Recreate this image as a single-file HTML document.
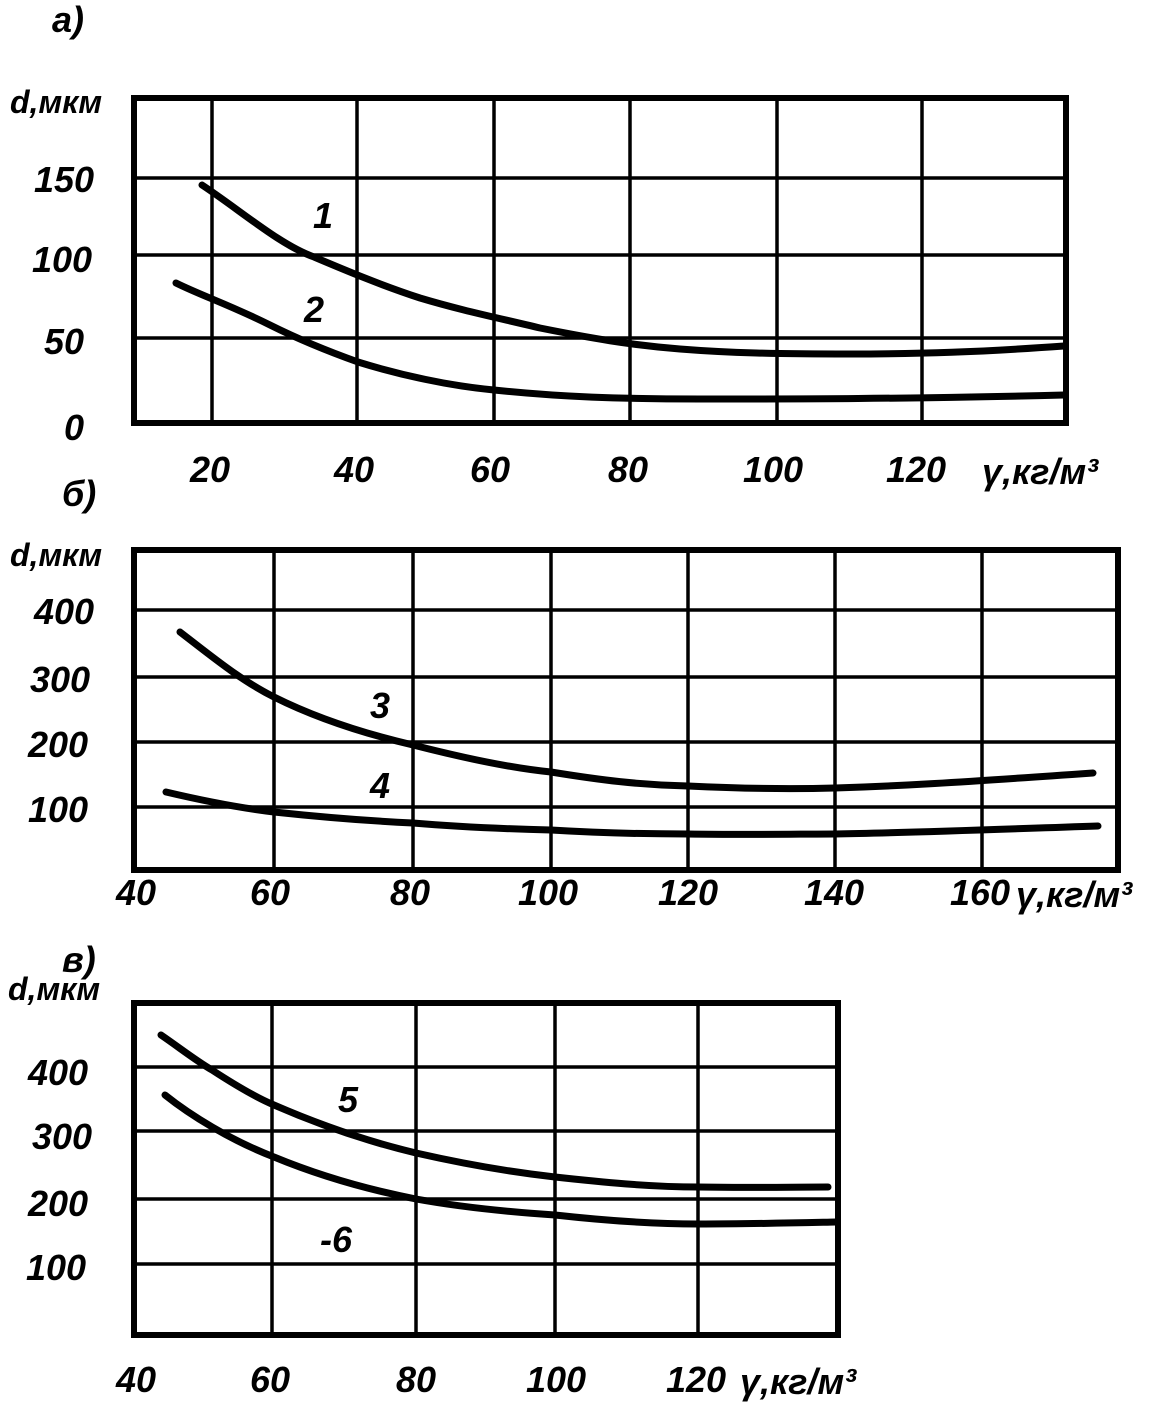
<!DOCTYPE html>
<html><head><meta charset="utf-8"><style>
html,body{margin:0;padding:0;background:#fff;}
svg{display:block;}
text{font-family:"Liberation Sans",sans-serif;font-style:italic;font-weight:bold;fill:#000;}
</style></head><body>
<svg width="1170" height="1408" viewBox="0 0 1170 1408" xmlns="http://www.w3.org/2000/svg">
<g stroke="#000" fill="none">
<!-- Panel a -->
<rect x="134" y="98" width="932" height="325" stroke-width="6"/>
<g stroke-width="3.5">
<line x1="212" y1="98" x2="212" y2="423"/><line x1="357" y1="98" x2="357" y2="423"/>
<line x1="494" y1="98" x2="494" y2="423"/><line x1="630" y1="98" x2="630" y2="423"/>
<line x1="777" y1="98" x2="777" y2="423"/><line x1="922" y1="98" x2="922" y2="423"/>
<line x1="134" y1="178" x2="1066" y2="178"/><line x1="134" y1="255" x2="1066" y2="255"/>
<line x1="134" y1="338" x2="1066" y2="338"/>
</g>
<g stroke-width="7" stroke-linecap="round">
<path d="M202,185 C240,210 280,245 314,257 C340,268 380,285 420,298 C460,310 494,317 540,328 C590,338 630,345 680,349 C730,353 777,354 850,354 C920,354 980,352 1064,346"/>
<path d="M176,283 C200,295 230,305 270,325 C300,340 330,352 358,362 C400,375 450,386 494,390 C560,397 620,399 700,399 C800,399 900,399 1064,395"/>
</g>
<!-- Panel b -->
<rect x="134" y="550" width="984" height="320" stroke-width="6"/>
<g stroke-width="3.5">
<line x1="274" y1="550" x2="274" y2="870"/><line x1="413" y1="550" x2="413" y2="870"/>
<line x1="551" y1="550" x2="551" y2="870"/><line x1="688" y1="550" x2="688" y2="870"/>
<line x1="835" y1="550" x2="835" y2="870"/><line x1="982" y1="550" x2="982" y2="870"/>
<line x1="134" y1="610" x2="1118" y2="610"/><line x1="134" y1="677" x2="1118" y2="677"/>
<line x1="134" y1="742" x2="1118" y2="742"/><line x1="134" y1="807" x2="1118" y2="807"/>
</g>
<g stroke-width="7" stroke-linecap="round">
<path d="M180,632 C210,655 240,680 274,697 C320,720 370,735 413,745 C460,757 510,768 551,772 C600,780 640,785 688,786 C750,789 800,789 835,788 C900,786 950,783 1093,773"/>
<path d="M166,792 C200,800 240,808 274,812 C330,818 370,821 413,823 C460,827 510,829 551,830 C600,833 640,834 688,834 C750,835 800,834 835,834 C900,833 950,831 1098,826"/>
</g>
<!-- Panel c -->
<rect x="134" y="1003" width="704" height="332" stroke-width="6"/>
<g stroke-width="3.5">
<line x1="272" y1="1003" x2="272" y2="1335"/><line x1="416" y1="1003" x2="416" y2="1335"/>
<line x1="555" y1="1003" x2="555" y2="1335"/><line x1="698" y1="1003" x2="698" y2="1335"/>
<line x1="134" y1="1067" x2="838" y2="1067"/><line x1="134" y1="1131" x2="838" y2="1131"/>
<line x1="134" y1="1199" x2="838" y2="1199"/><line x1="134" y1="1264" x2="838" y2="1264"/>
</g>
<g stroke-width="7" stroke-linecap="round">
<path d="M161,1035 C180,1048 195,1060 212,1070 C235,1085 255,1097 274,1105 C320,1125 370,1142 416,1153 C460,1163 510,1172 555,1177 C600,1182 650,1187 698,1187 C750,1188 790,1187 828,1187"/>
<path d="M165,1095 C190,1115 230,1140 274,1157 C320,1176 370,1190 416,1199 C460,1207 510,1212 555,1215 C600,1220 650,1224 698,1224 C750,1224 790,1223 836,1222"/>
</g>
</g>
<g font-size="36">
<text x="52" y="32">a)</text>
<text x="10" y="113" font-size="32">d,мкм</text>
<text x="34" y="192">150</text><text x="32" y="272">100</text><text x="44" y="354">50</text><text x="64" y="440">0</text>
<text x="190" y="482">20</text><text x="334" y="482">40</text><text x="470" y="482">60</text>
<text x="608" y="482">80</text><text x="743" y="482">100</text><text x="886" y="482">120</text>
<text x="982" y="484">γ,кг/м³</text>
<text x="313" y="228">1</text><text x="304" y="322">2</text>
<text x="62" y="506">б)</text>
<text x="10" y="566" font-size="32">d,мкм</text>
<text x="34" y="624">400</text><text x="30" y="692">300</text><text x="28" y="757">200</text><text x="28" y="822">100</text>
<text x="116" y="905">40</text><text x="250" y="905">60</text><text x="390" y="905">80</text>
<text x="518" y="905">100</text><text x="658" y="905">120</text><text x="804" y="905">140</text>
<text x="950" y="905">160</text><text x="1016" y="907">γ,кг/м³</text>
<text x="370" y="718">3</text><text x="370" y="798">4</text>
<text x="62" y="972">в)</text>
<text x="8" y="1000" font-size="32">d,мкм</text>
<text x="28" y="1085">400</text><text x="32" y="1149">300</text><text x="28" y="1216">200</text><text x="26" y="1280">100</text>
<text x="116" y="1392">40</text><text x="250" y="1392">60</text><text x="396" y="1392">80</text>
<text x="526" y="1392">100</text><text x="666" y="1392">120</text><text x="740" y="1394">γ,кг/м³</text>
<text x="338" y="1112">5</text><text x="320" y="1252">-6</text>
</g>
</svg>
</body></html>
